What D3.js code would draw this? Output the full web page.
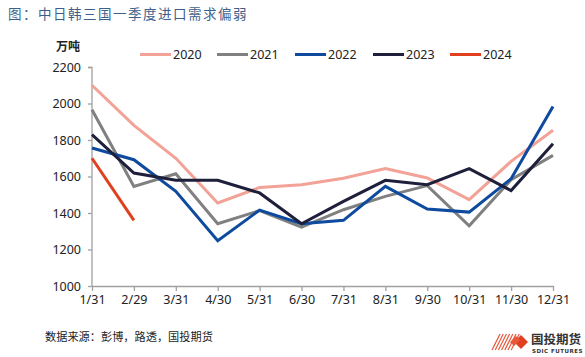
<!DOCTYPE html>
<html><head><meta charset="utf-8">
<script src="https://cdn.jsdelivr.net/npm/d3@7"></script>
<style>
body{margin:0;background:#fff;}
svg{display:block;font-family:"Noto Sans CJK SC","Noto Sans",sans-serif;}
</style></head>
<body><svg id="c" width="585" height="357"></svg>
<script>
const categories = ["1/31","2/29","3/31","4/30","5/31","6/30","7/31","8/31","9/30","10/31","11/30","12/31"];
const yTicks = [1000,1200,1400,1600,1800,2000,2200];
const seriesNames = ["2020","2021","2022","2023","2024"];
const seriesColors = ["#F2A296","#808080","#0E4A9E","#1E1F3B","#E0401E"];
const v2020 = [2100,1880,1700,1455,1540,1555,1590,1643,1592,1473,1683,1853];
const v2021 = [1966,1546,1615,1341,1413,1323,1418,1491,1550,1330,1582,1716];
const v2022 = [1756,1692,1519,1248,1416,1341,1360,1546,1422,1405,1588,1984];
const v2023 = [1829,1619,1579,1579,1510,1341,1464,1579,1555,1643,1523,1780];
const v2024 = [1700,1360];
const seriesValues = [v2020,v2021,v2022,v2023,v2024];

const svg = d3.select("#c");
const x = d3.scalePoint().domain(categories).range([92,553]);
const y = d3.scaleLinear().domain([1000,2200]).range([286,67]);

// title
svg.append("text").attr("x",8).attr("y",19).attr("fill","#3E5F8A")
  .attr("font-size",13.5).attr("letter-spacing",1.5)
  .attr("font-family","'Noto Sans CJK SC',sans-serif")
  .text("图：中日韩三国一季度进口需求偏弱");

// unit
svg.append("text").attr("x",56).attr("y",51).attr("font-size",12).attr("font-weight","bold").attr("fill","#222").text("万吨");

// axes
const yAxis = d3.axisLeft(y).tickValues(yTicks).tickSize(4).tickPadding(7).tickFormat(d3.format("d"));
const gy = svg.append("g").attr("transform","translate(92,0)").call(yAxis);
const xAxis = d3.axisBottom(x).tickSize(5).tickPadding(4).tickSizeOuter(0);
const gx = svg.append("g").attr("transform","translate(0,286)").call(xAxis);
[gx,gy].forEach(g=>{
  g.select(".domain").attr("stroke","#A0A0A0").attr("stroke-width",1.3);
  g.selectAll(".tick line").attr("stroke","#A0A0A0").attr("stroke-width",1.3);
  g.selectAll(".tick text").attr("fill","#222").attr("font-size",12.5).attr("font-family","'Noto Sans',sans-serif");
});
gy.select(".domain").attr("d","M-4,67.5H0V286");

// lines
const line = d3.line().x((d,i)=>x(categories[i])).y(d=>y(d));
seriesValues.forEach((vals,k)=>{
  svg.append("path").datum(vals).attr("fill","none")
    .attr("stroke",seriesColors[k]).attr("stroke-width",3)
    .attr("stroke-linejoin","miter").attr("d",line);
});

// legend
const legX = [140,217,295,373,450];
seriesNames.forEach((n,k)=>{
  const g = svg.append("g");
  g.append("line").attr("x1",legX[k]).attr("x2",legX[k]+31).attr("y1",54.5).attr("y2",54.5)
    .attr("stroke",seriesColors[k]).attr("stroke-width",3);
  g.append("text").attr("x",legX[k]+33).attr("y",59).attr("font-size",12.5).attr("fill","#222")
    .attr("font-family","'Noto Sans',sans-serif").text(n);
});

// source
svg.append("text").attr("x",45).attr("y",341).attr("font-size",11.2).attr("fill","#222").text("数据来源：彭博，路透，国投期货");

// logo
const logo = svg.append("g");
for(let i=0;i<7;i++){
  logo.append("line").attr("x1",492+i*3.2).attr("y1",350).attr("x2",500+i*3.2).attr("y2",334)
    .attr("stroke","#E8583A").attr("stroke-width",1.2);
}
logo.append("path").attr("d","M514,342 L521,335 L528,342 L521,349 Z").attr("fill","#E0401E");
logo.append("path").attr("d","M510,342 L516,336 L520,340 L514,346 Z").attr("fill","#E8583A");
logo.append("text").attr("x",531).attr("y",344).attr("font-size",12.5).attr("font-weight","bold").attr("fill","#333").text("国投期货");
logo.append("text").attr("x",532).attr("y",353).attr("font-size",5.5).attr("font-weight","bold").attr("fill","#333")
  .attr("font-family","'DejaVu Sans',sans-serif").attr("letter-spacing",0.5).text("SDIC FUTURES");
</script></body></html>
